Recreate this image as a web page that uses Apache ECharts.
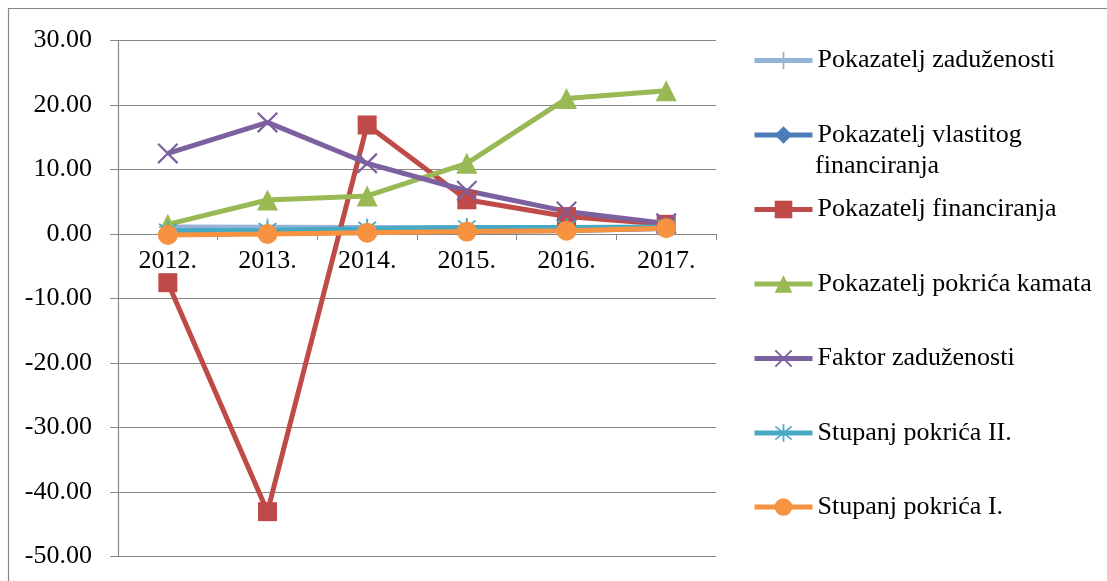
<!DOCTYPE html>
<html>
<head>
<meta charset="utf-8">
<script src="https://cdn.jsdelivr.net/npm/echarts@6/dist/echarts.min.js"></script>
<style>
  html, body { margin: 0; padding: 0; background: #fff; }
  #chart { width: 1107px; height: 581px; }
</style>
</head>
<body>
<div id="chart"></div>
<script>
// podaci ocitani sa slike
const years = ['2012.', '2013.', '2014.', '2015.', '2016.', '2017.']
const yTicks = { min: -50, max: 30, step: 10 }

const seriesNames = [
  'Pokazatelj zaduženosti',
  'Pokazatelj vlastitog financiranja',
  'Pokazatelj financiranja',
  'Pokazatelj pokrića kamata',
  'Faktor zaduženosti',
  'Stupanj pokrića II.',
  'Stupanj pokrića I.'
]
const zaduzenost = [1.1, 1.05, 1.0, 0.95, 0.9, 0.85]
const vlastitoFin = [0.0, 0.1, 0.25, 0.4, 0.55, 0.85]
const financiranje = [-7.55, -43.05, 16.9, 5.3, 2.7, 1.5]
const pokriceKamata = [1.5, 5.27, 5.9, 10.96, 21.0, 22.2]
const faktorZad = [12.5, 17.3, 10.96, 6.7, 3.5, 1.65]
const pokriceII = [0.5, 0.6, 0.8, 1.0, 1.0, 1.1]
const pokriceI = [-0.15, 0.0, 0.2, 0.37, 0.5, 0.9]

const colors = ['#95B3D7', '#4A7EBB', '#BE4B48', '#98B954', '#7D60A0', '#46AAC5', '#F69240']

// markeri kao u Excelu
const plusPath = 'path://M9,0H11V20H9Z M0,9H20V11H0Z'
const crossPath = 'path://M0,1.5L1.5,0L20,18.5L18.5,20Z M18.5,0L20,1.5L1.5,20L0,18.5Z'
const starPath = 'path://M9.2,0H10.8V20H9.2Z M2,3.2L3.2,2L18,16.8L16.8,18Z M16.8,2L18,3.2L3.2,18L2,16.8Z'

const font = '"Liberation Serif", "Times New Roman", serif'
const gridColor = '#868686'

// raspored
const gridTop = 40.5
const gridBottom = 24.5
const chartHeight = 581
const plotHeight = chartHeight - gridTop - gridBottom
// x os ide kroz nulu
const zeroOffset = -((0 - yTicks.min) / (yTicks.max - yTicks.min)) * plotHeight

const chart = echarts.init(document.getElementById('chart'))

const seriesData = [zaduzenost, vlastitoFin, financiranje, pokriceKamata, faktorZad, pokriceII, pokriceI]
const symbols = [plusPath, 'diamond', 'rect', 'triangle', crossPath, starPath, 'circle']
const symbolSizes = [18, 17, 19, 21, 21, 19, 20]

const series = seriesNames.map((name, i) => ({
  name,
  type: 'line',
  data: seriesData[i],
  symbol: symbols[i],
  symbolSize: symbolSizes[i],
  showAllSymbol: true,
  lineStyle: { width: 5, color: colors[i] },
  itemStyle: { color: colors[i] },
  emphasis: { disabled: true }
}))

// legenda - svaka stavka posebno da se poklope razmaci
const legendCenters = [60.5, 135, 209.5, 284, 358.5, 433, 507]
const legends = seriesNames.map((name, i) => ({
  data: [name],
  left: 752,
  top: legendCenters[i] - 13,
  padding: 0,
  itemWidth: 58,
  itemHeight: 22,
  lineStyle: { width: 5 },
  selectedMode: false,
  formatter: n => (n === 'Pokazatelj vlastitog financiranja' ? 'Pokazatelj vlastitog' : n),
  textStyle: { fontFamily: font, fontSize: 26, color: '#000' }
}))

const option = {
  animation: false,
  color: colors,
  grid: {
    left: 118,
    right: 391,
    top: gridTop,
    bottom: gridBottom,
    outerBoundsMode: 'none',
    containLabel: false
  },
  legend: legends,
  graphic: [
    {
      type: 'rect',
      shape: { x: 8.5, y: 8.5, width: 1130, height: 600 },
      style: { fill: 'none', stroke: gridColor, lineWidth: 1.2 },
      silent: true
    },
    {
      type: 'text',
      left: 815,
      top: 153,
      style: { text: 'financiranja', font: '26px ' + font, fill: '#000' },
      silent: true
    }
  ],
  xAxis: {
    type: 'category',
    data: years,
    boundaryGap: true,
    position: 'bottom',
    offset: zeroOffset,
    axisLine: { onZero: false, lineStyle: { color: gridColor, width: 1.2 } },
    axisTick: { show: true, length: 6, lineStyle: { color: gridColor } },
    axisLabel: { margin: 14, fontFamily: font, fontSize: 26, color: '#000' },
    splitLine: { show: false }
  },
  yAxis: {
    type: 'value',
    min: yTicks.min,
    max: yTicks.max,
    interval: yTicks.step,
    axisLine: { show: true, lineStyle: { color: gridColor, width: 1.2 } },
    axisTick: { show: true, length: 8, lineStyle: { color: gridColor } },
    axisLabel: {
      margin: 26,
      fontFamily: font,
      fontSize: 26,
      color: '#000',
      formatter: v => v.toFixed(2)
    },
    splitLine: { show: true, lineStyle: { color: gridColor, width: 1.2 } }
  },
  series
}

chart.setOption(option)
</script>
</body>
</html>
